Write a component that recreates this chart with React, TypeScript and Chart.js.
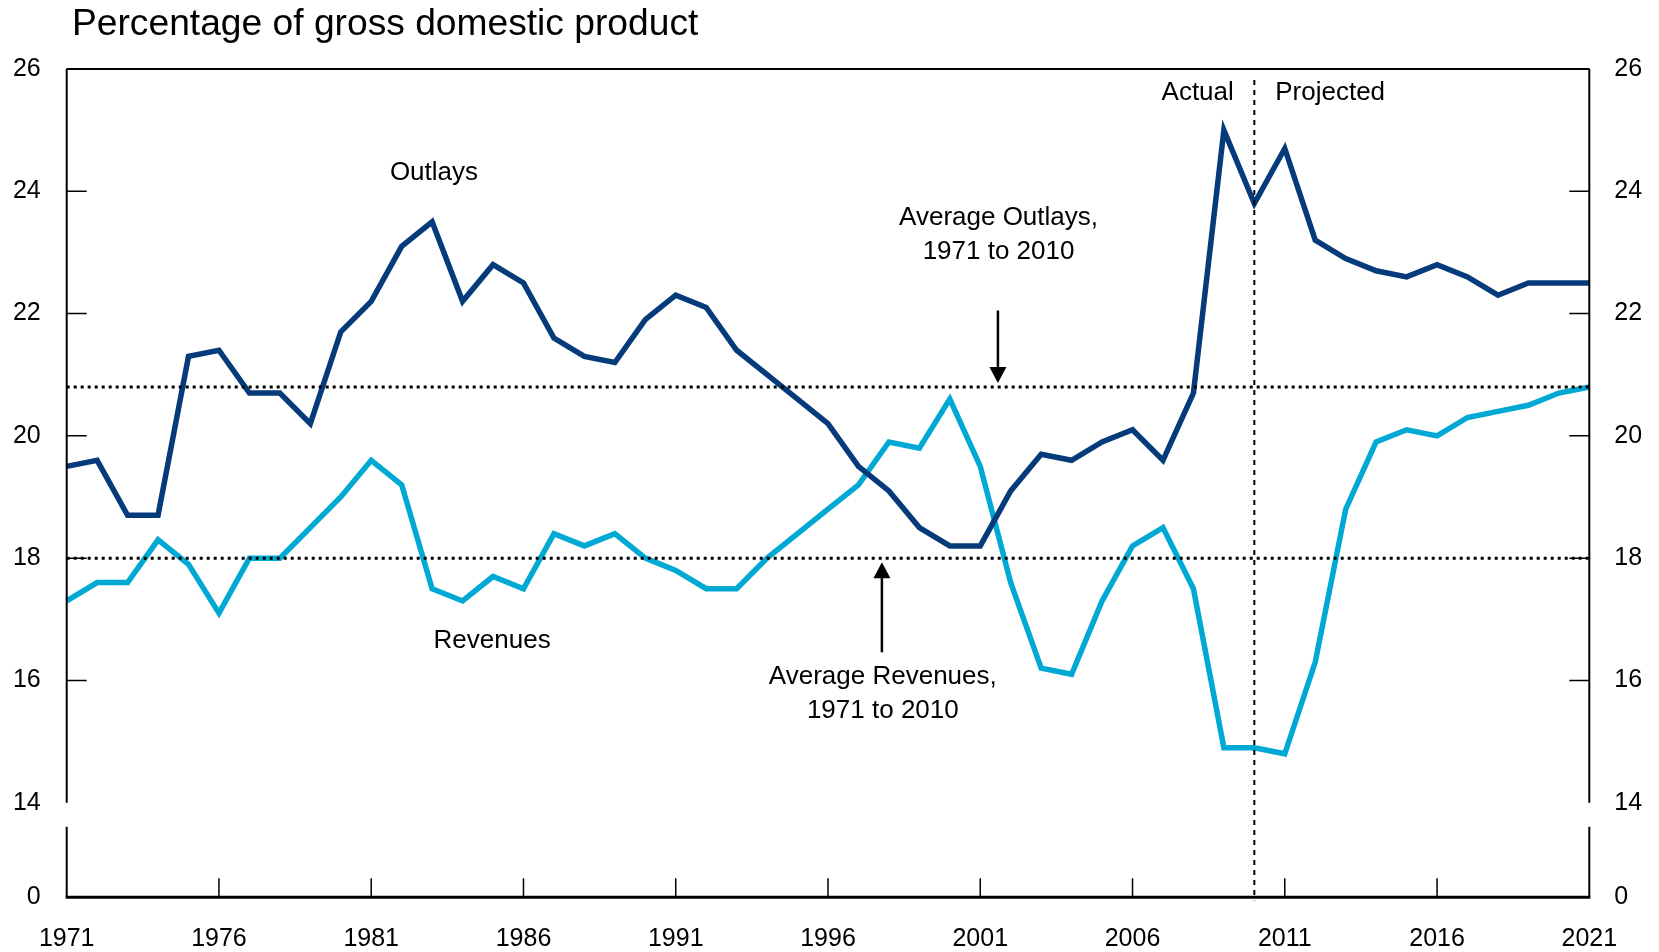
import React, { useEffect, useRef } from "react";
import { Chart, registerables } from "chart.js";

Chart.register(...registerables);

// ---------- data ----------
const years = [
  1971, 1972, 1973, 1974, 1975, 1976, 1977, 1978, 1979, 1980,
  1981, 1982, 1983, 1984, 1985, 1986, 1987, 1988, 1989, 1990,
  1991, 1992, 1993, 1994, 1995, 1996, 1997, 1998, 1999, 2000,
  2001, 2002, 2003, 2004, 2005, 2006, 2007, 2008, 2009, 2010,
  2011, 2012, 2013, 2014, 2015, 2016, 2017, 2018, 2019, 2020,
  2021,
];

const outlays = [
  19.5, 19.6, 18.7, 18.7, 21.3, 21.4, 20.7, 20.7, 20.2, 21.7,
  22.2, 23.1, 23.5, 22.2, 22.8, 22.5, 21.6, 21.3, 21.2, 21.9,
  22.3, 22.1, 21.4, 21.0, 20.6, 20.2, 19.5, 19.1, 18.5, 18.2,
  18.2, 19.1, 19.7, 19.6, 19.9, 20.1, 19.6, 20.7, 25.0, 23.8,
  24.7, 23.2, 22.9, 22.7, 22.6, 22.8, 22.6, 22.3, 22.5, 22.5,
  22.5,
];

const revenues = [
  17.3, 17.6, 17.6, 18.3, 17.9, 17.1, 18.0, 18.0, 18.5, 19.0,
  19.6, 19.2, 17.5, 17.3, 17.7, 17.5, 18.4, 18.2, 18.4, 18.0,
  17.8, 17.5, 17.5, 18.0, 18.4, 18.8, 19.2, 19.9, 19.8, 20.6,
  19.5, 17.6, 16.2, 16.1, 17.3, 18.2, 18.5, 17.5, 14.9, 14.9,
  14.8, 16.3, 18.8, 19.9, 20.1, 20.0, 20.3, 20.4, 20.5, 20.7,
  20.8,
];

const averageOutlays = 20.8;
const averageRevenues = 18.0;
const projectionStart = 2010;

const xTickValues = [1971, 1976, 1981, 1986, 1991, 1996, 2001, 2006, 2011, 2016, 2021];
const yTop = 26;
const yBreakValue = 14;
// the "0" tick sits below a break in the axis
const yFloor = 12.453;
const yTickValues = [yFloor, 14, 16, 18, 20, 22, 24, 26];
const yTickLabels = ["0", "14", "16", "18", "20", "22", "24", "26"];
const innerYTicks = [16, 18, 20, 22, 24, 26];
const innerXTicks = [1976, 1981, 1986, 1991, 1996, 2001, 2006, 2011, 2016];

const titleText = "Percentage of gross domestic product";

// ---------- annotations (positions in data units) ----------
const textNotes = [
  { lines: ["Outlays"], x: 1983.06, y: 24.31 },
  { lines: ["Revenues"], x: 1984.97, y: 16.65 },
  { lines: ["Actual"], x: 2008.14, y: 25.61 },
  { lines: ["Projected"], x: 2012.49, y: 25.61 },
  { lines: ["Average Outlays,", "1971 to 2010"], x: 2001.6, y: 23.56 },
  { lines: ["Average Revenues,", "1971 to 2010"], x: 1997.8, y: 16.06 },
];
const arrowNotes = [
  { x: 2001.58, from: 22.05, to: averageOutlays },
  { x: 1997.77, from: 16.46, to: averageRevenues },
];

const FONT = "'Liberation Sans', Arial, Helvetica, sans-serif";
const NAVY = "#053a7b";
const CYAN = "#00a9d4";

const overlayPlugin = {
  id: "overlay",
  afterDatasetsDraw(chart: any) {
    const { ctx, chartArea } = chart;
    const x = chart.scales.x;
    const y = chart.scales.y;
    const L = chartArea.left;
    const R = chartArea.right;
    const T = chartArea.top;
    const B = chartArea.bottom;
    ctx.save();

    // average dotted lines
    ctx.strokeStyle = "#000";
    ctx.lineWidth = 3;
    ctx.setLineDash([3, 4]);
    for (const v of [averageOutlays, averageRevenues]) {
      const py = y.getPixelForValue(v);
      ctx.beginPath();
      ctx.moveTo(L, py);
      ctx.lineTo(R, py);
      ctx.stroke();
    }

    // projection divider
    ctx.lineWidth = 2;
    ctx.setLineDash([5, 5]);
    const px = x.getPixelForValue(projectionStart);
    ctx.beginPath();
    ctx.moveTo(px, T + 11);
    ctx.lineTo(px, B + 3);
    ctx.stroke();
    ctx.setLineDash([]);

    // frame
    const breakTop = y.getPixelForValue(yBreakValue);
    const breakBottom = breakTop + 24;
    ctx.lineWidth = 2;
    ctx.beginPath();
    ctx.moveTo(L, T);
    ctx.lineTo(R, T);
    for (const ax of [L, R]) {
      ctx.moveTo(ax, T);
      ctx.lineTo(ax, breakTop);
      ctx.moveTo(ax, breakBottom);
      ctx.lineTo(ax, B);
    }
    ctx.stroke();
    ctx.lineWidth = 3;
    ctx.beginPath();
    ctx.moveTo(L - 1, B);
    ctx.lineTo(R + 1, B);
    ctx.stroke();

    // inner tick marks
    ctx.lineWidth = 1.5;
    ctx.beginPath();
    for (const v of innerYTicks) {
      const py = y.getPixelForValue(v);
      ctx.moveTo(L, py);
      ctx.lineTo(L + 20, py);
      ctx.moveTo(R, py);
      ctx.lineTo(R - 20, py);
    }
    for (const v of innerXTicks) {
      const tx = x.getPixelForValue(v);
      ctx.moveTo(tx, B);
      ctx.lineTo(tx, B - 19);
    }
    ctx.stroke();

    // arrows
    ctx.fillStyle = "#000";
    for (const a of arrowNotes) {
      const ax = x.getPixelForValue(a.x);
      const y0 = y.getPixelForValue(a.from);
      const yLine = y.getPixelForValue(a.to);
      const dir = yLine > y0 ? 1 : -1;
      const tip = yLine - dir * 4;
      const headBase = tip - dir * 16;
      ctx.lineWidth = 2.5;
      ctx.beginPath();
      ctx.moveTo(ax, y0);
      ctx.lineTo(ax, headBase);
      ctx.stroke();
      ctx.beginPath();
      ctx.moveTo(ax - 8.5, headBase);
      ctx.lineTo(ax + 8.5, headBase);
      ctx.lineTo(ax, tip);
      ctx.closePath();
      ctx.fill();
    }

    // text notes
    ctx.font = `26px ${FONT}`;
    ctx.textAlign = "center";
    ctx.textBaseline = "middle";
    for (const n of textNotes) {
      const nx = x.getPixelForValue(n.x);
      const ny = y.getPixelForValue(n.y);
      n.lines.forEach((line, i) => ctx.fillText(line, nx, ny + i * 33.6));
    }

    // title
    ctx.font = `37.2px ${FONT}`;
    ctx.textAlign = "left";
    ctx.textBaseline = "alphabetic";
    ctx.fillText(titleText, 72, 35);

    ctx.restore();
  },
};

export default function App() {
  const canvasRef = useRef<HTMLCanvasElement | null>(null);

  useEffect(() => {
    if (!canvasRef.current) return;
    const tickFont = { family: FONT, size: 25 };
    const hiddenGrid = { display: false, drawTicks: false };
    const chart = new Chart(canvasRef.current, {
      type: "line",
      data: {
        datasets: [
          {
            label: "Outlays",
            data: years.map((yr, i) => ({ x: yr, y: outlays[i] })),
            borderColor: NAVY,
            borderWidth: 5.5,
            pointRadius: 0,
            tension: 0,
            fill: false,
            clip: false as any,
          },
          {
            label: "Revenues",
            data: years.map((yr, i) => ({ x: yr, y: revenues[i] })),
            borderColor: CYAN,
            borderWidth: 5.5,
            pointRadius: 0,
            tension: 0,
            fill: false,
            clip: false as any,
          },
        ],
      },
      options: {
        responsive: false,
        animation: false,
        events: [],
        layout: { padding: { top: 69, left: 0, right: 0, bottom: 0 } },
        plugins: {
          legend: { display: false },
          tooltip: { enabled: false },
          title: { display: false },
        },
        scales: {
          x: {
            type: "linear",
            min: years[0],
            max: years[years.length - 1],
            grid: hiddenGrid,
            border: { display: false },
            afterBuildTicks: (s: any) => {
              s.ticks = xTickValues.map((v) => ({ value: v }));
            },
            afterFit: (s: any) => {
              s.height = 54.7;
            },
            ticks: {
              autoSkip: false,
              maxRotation: 0,
              padding: 26.7,
              color: "#000",
              font: tickFont,
              callback: (v: any) => String(v),
            },
          },
          y: {
            type: "linear",
            position: "left",
            min: yFloor,
            max: yTop,
            grid: hiddenGrid,
            border: { display: false },
            afterBuildTicks: (s: any) => {
              s.ticks = yTickValues.map((v) => ({ value: v }));
            },
            afterFit: (s: any) => {
              s.width = 66.7;
            },
            ticks: {
              autoSkip: false,
              padding: 26,
              color: "#000",
              font: tickFont,
              callback: (_v: any, i: number) => yTickLabels[i],
            },
          },
          y2: {
            type: "linear",
            position: "right",
            min: yFloor,
            max: yTop,
            grid: hiddenGrid,
            border: { display: false },
            afterBuildTicks: (s: any) => {
              s.ticks = yTickValues.map((v) => ({ value: v }));
            },
            afterFit: (s: any) => {
              s.width = 69.7;
            },
            ticks: {
              autoSkip: false,
              padding: 25,
              color: "#000",
              font: tickFont,
              callback: (_v: any, i: number) => yTickLabels[i],
            },
          },
        },
      },
      plugins: [overlayPlugin],
    } as any);
    return () => chart.destroy();
  }, []);

  return (
    <div style={{ position: "fixed", left: 0, top: 0, width: 1659, height: 952, background: "#fff" }}>
      <canvas ref={canvasRef} width={1659} height={952} style={{ display: "block" }} />
    </div>
  );
}
